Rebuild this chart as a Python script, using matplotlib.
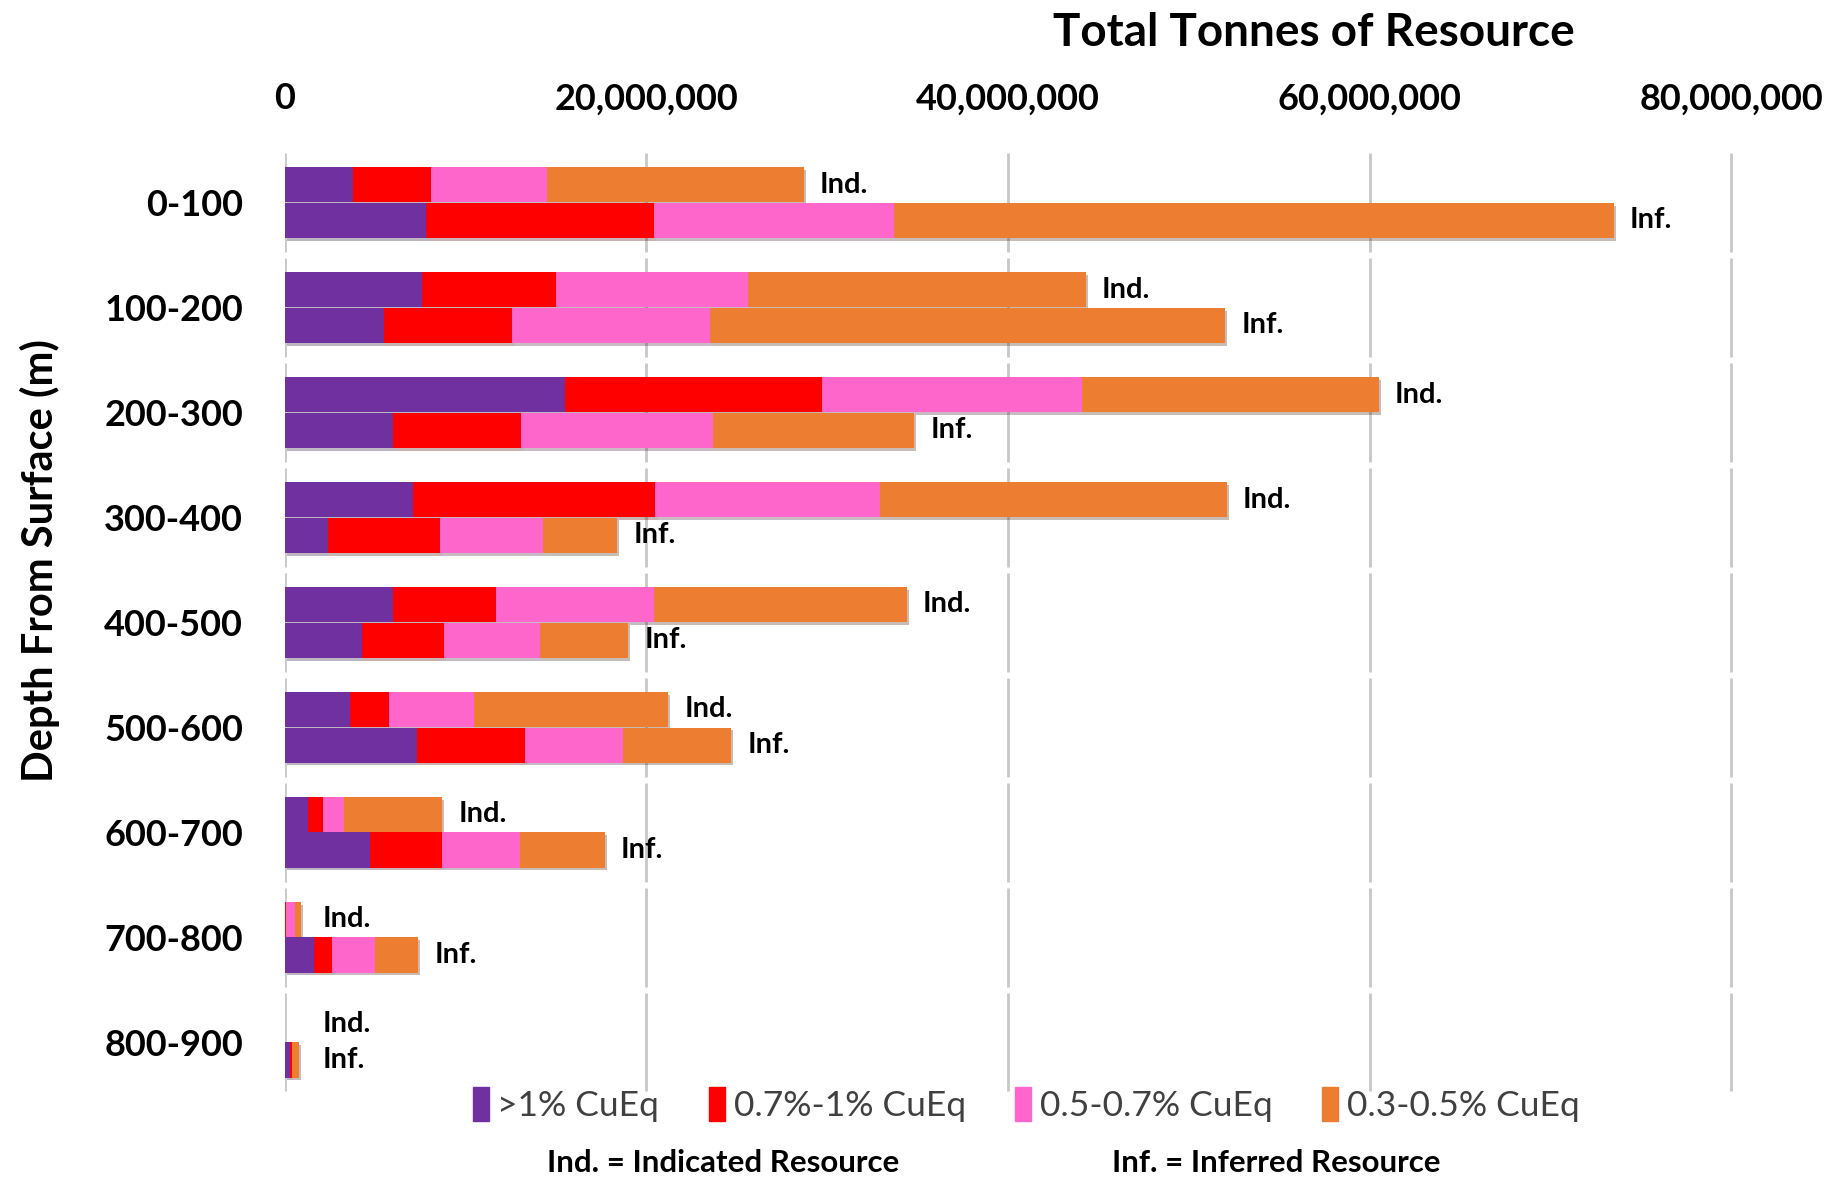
import matplotlib
matplotlib.use('Agg')
import matplotlib.pyplot as plt
import matplotlib.patches as mpatches
import matplotlib.patheffects as pe
import matplotlib.ticker as ticker
import numpy as np

plt.rcParams['font.family'] = ['Lato', 'DejaVu Sans']

# tonnes in millions
depth = ['0-100', '100-200', '200-300', '300-400', '400-500',
         '500-600', '600-700', '700-800', '800-900']
ind_gt1 = [3.8, 7.6, 15.5, 7.1, 6.0, 3.6, 1.3, 0.0, 0.0]
ind_07 = [4.3, 7.4, 14.2, 13.4, 5.7, 2.2, 0.8, 0.1, 0.0]
ind_05 = [6.4, 10.6, 14.4, 12.4, 8.7, 4.7, 1.2, 0.5, 0.0]
ind_03 = [14.2, 18.7, 16.4, 19.2, 14.0, 10.7, 5.4, 0.3, 0.0]
inf_gt1 = [7.8, 5.5, 6.0, 2.4, 4.3, 7.3, 4.7, 1.6, 0.3]
inf_07 = [12.6, 7.1, 7.1, 6.2, 4.5, 6.0, 4.0, 1.0, 0.1]
inf_05 = [13.3, 10.9, 10.6, 5.7, 5.3, 5.4, 4.3, 2.4, 0.0]
inf_03 = [39.8, 28.5, 11.1, 4.1, 4.9, 6.0, 4.7, 2.4, 0.4]

grades = ['>1% CuEq', '0.7%-1% CuEq', '0.5-0.7% CuEq', '0.3-0.5% CuEq']
colors = ['#7030A0', '#FF0000', '#FF66CC', '#ED7D31']
xticks = [0, 20e6, 40e6, 60e6, 80e6]

fig = plt.figure(figsize=(18.36, 11.78), dpi=100)
ax = fig.add_axes([0.155, 0.0708, 0.7895, 0.8018])

y = np.arange(len(depth))
h = 0.335
shadow = [pe.SimplePatchShadow(offset=(1.5, -2), alpha=0.3), pe.Normal()]

for series, off, tag in [((ind_gt1, ind_07, ind_05, ind_03), -0.17, 'Ind.'),
                         ((inf_gt1, inf_07, inf_05, inf_03), 0.17, 'Inf.')]:
    left = np.zeros(len(depth))
    for vals, c in zip(series, colors):
        v = np.array(vals) * 1e6
        bars = ax.barh(y + off, v, height=h, left=left, color=c, linewidth=0, zorder=3)
        for b in bars:
            b.set_path_effects(shadow)
        left = left + v
    for yi, tot in zip(y, left):
        ax.text(max(tot, 1.2e6) + 0.9e6, yi + off, tag, va='center', ha='left',
                fontsize=21, fontweight='bold', color='black', zorder=4)

# broken gridlines, one segment per depth block
for yi in y:
    ax.vlines(xticks, yi - 0.47, yi + 0.47, color='#c8c8c8', linewidth=2, zorder=1)

ax.set_xlim(0, 80.15e6)
ax.set_ylim(8.5, -0.5)
ax.xaxis.tick_top()
ax.set_xticks(xticks)
ax.xaxis.set_major_formatter(ticker.FuncFormatter(lambda v, p: '{:,.0f}'.format(v)))
ax.tick_params(axis='x', length=0, pad=25, labelsize=26)
ax.set_yticks(y)
ax.set_yticklabels(depth)
ax.tick_params(axis='y', length=0, pad=30, labelsize=26)
for lab in ax.get_xticklabels() + ax.get_yticklabels():
    lab.set_fontweight('bold')
for s in ax.spines.values():
    s.set_visible(False)

fig.text(0.7156, 0.972, 'Total Tonnes of Resource', ha='center', va='center',
         fontsize=33, fontweight='bold')
fig.text(0.0217, 0.524, 'Depth From Surface (m)', ha='center', va='center',
         rotation=90, fontsize=30, fontweight='bold')

handles = [mpatches.Patch(color=c) for c in colors]
leg = fig.legend(handles, grades, ncol=4, loc='center', bbox_to_anchor=(0.559, 0.0626),
                 frameon=False, handlelength=0.45, handleheight=1.1, handletextpad=0.25,
                 columnspacing=1.4, fontsize=25.5)
for t in leg.get_texts():
    t.set_color('#404040')

fig.text(0.394, 0.013, 'Ind. = Indicated Resource', ha='center', va='center',
         fontsize=22.5, fontweight='bold')
fig.text(0.695, 0.013, 'Inf. = Inferred Resource', ha='center', va='center',
         fontsize=22.5, fontweight='bold')

plt.savefig('out.png', dpi=100)
